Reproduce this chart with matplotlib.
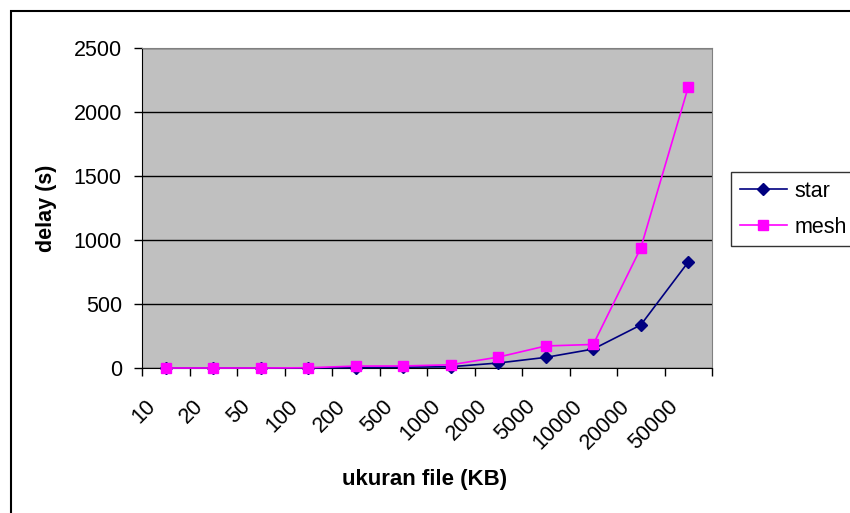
import matplotlib.pyplot as plt
import numpy as np
from matplotlib.patches import Rectangle
from matplotlib.transforms import ScaledTranslation

plt.rcParams['font.family'] = ['Liberation Sans', 'DejaVu Sans']

sizes = ['10', '20', '50', '100', '200', '500', '1000', '2000', '5000', '10000', '20000', '50000']
star = [0, 0, 0, 0, 3, 6, 10, 39, 83, 148, 336, 828]
mesh = [0, 0, 0, 2, 15, 16, 25, 85, 172, 184, 937, 2195]

fig = plt.figure(figsize=(8.5, 5.13), dpi=100)
ax = fig.add_axes([142 / 850, 1 - 368 / 513, 570 / 850, 320 / 513])

x = np.arange(len(sizes))
ax.set_facecolor('#C0C0C0')
ax.plot(x, star, color='#000080', marker='D', markersize=6.5, lw=1.2, label='star', clip_on=False, zorder=3)
ax.plot(x, mesh, color='#FF00FF', marker='s', markersize=7, lw=1.2, label='mesh', clip_on=False, zorder=4)

ax.set_xlim(-0.5, len(sizes) - 0.5)
ax.set_ylim(0, 2500)
ax.set_yticks(range(0, 2501, 500))
ax.yaxis.grid(True, color='black', lw=1)
ax.set_axisbelow(True)

# ticks at category boundaries, labels at centres
ax.set_xticks(np.arange(-0.5, len(sizes)), minor=False)
ax.set_xticklabels([])
ax.set_xticks(x, minor=True)
ax.set_xticklabels(sizes, minor=True, rotation=45, ha='right', va='top', rotation_mode='anchor', fontsize=15.5)
ax.tick_params(axis='x', which='minor', length=0, pad=20)
ax.tick_params(axis='x', which='major', length=6, width=1, direction='out')
ax.tick_params(axis='y', length=6, width=1, direction='out', labelsize=15.5, pad=8.5)
shift = ScaledTranslation(-21 / 100, 0, fig.dpi_scale_trans)
for lab in ax.get_xticklabels(minor=True):
    lab.set_transform(lab.get_transform() + shift)

for s in ['top', 'right']:
    ax.spines[s].set_color('#808080')
ax.spines['left'].set_color('black')
ax.spines['bottom'].set_color('black')

ax.set_ylabel('delay (s)', fontsize=15.5, fontweight='bold')
ax.yaxis.set_label_coords(-0.149, 0.5)
ax.set_xlabel('ukuran file (KB)', fontsize=16, fontweight='bold')
ax.xaxis.set_label_coords(0.495, -0.315)

leg = ax.legend(loc='upper left', bbox_to_anchor=(731 / 850, 1 - 172 / 513), bbox_transform=fig.transFigure,
                frameon=True, fancybox=False, fontsize=15.5, handlelength=2.2, handletextpad=0.35,
                borderpad=0.4, labelspacing=0.7, borderaxespad=0)
leg.get_frame().set_edgecolor('black')
leg.get_frame().set_linewidth(1)

fig.patches.append(Rectangle((10.5 / 850, -0.1), 1.0, 1 - 11 / 513 + 0.1, transform=fig.transFigure,
                             fill=False, edgecolor='black', lw=1.5))

fig.savefig('out.png', dpi=100)
